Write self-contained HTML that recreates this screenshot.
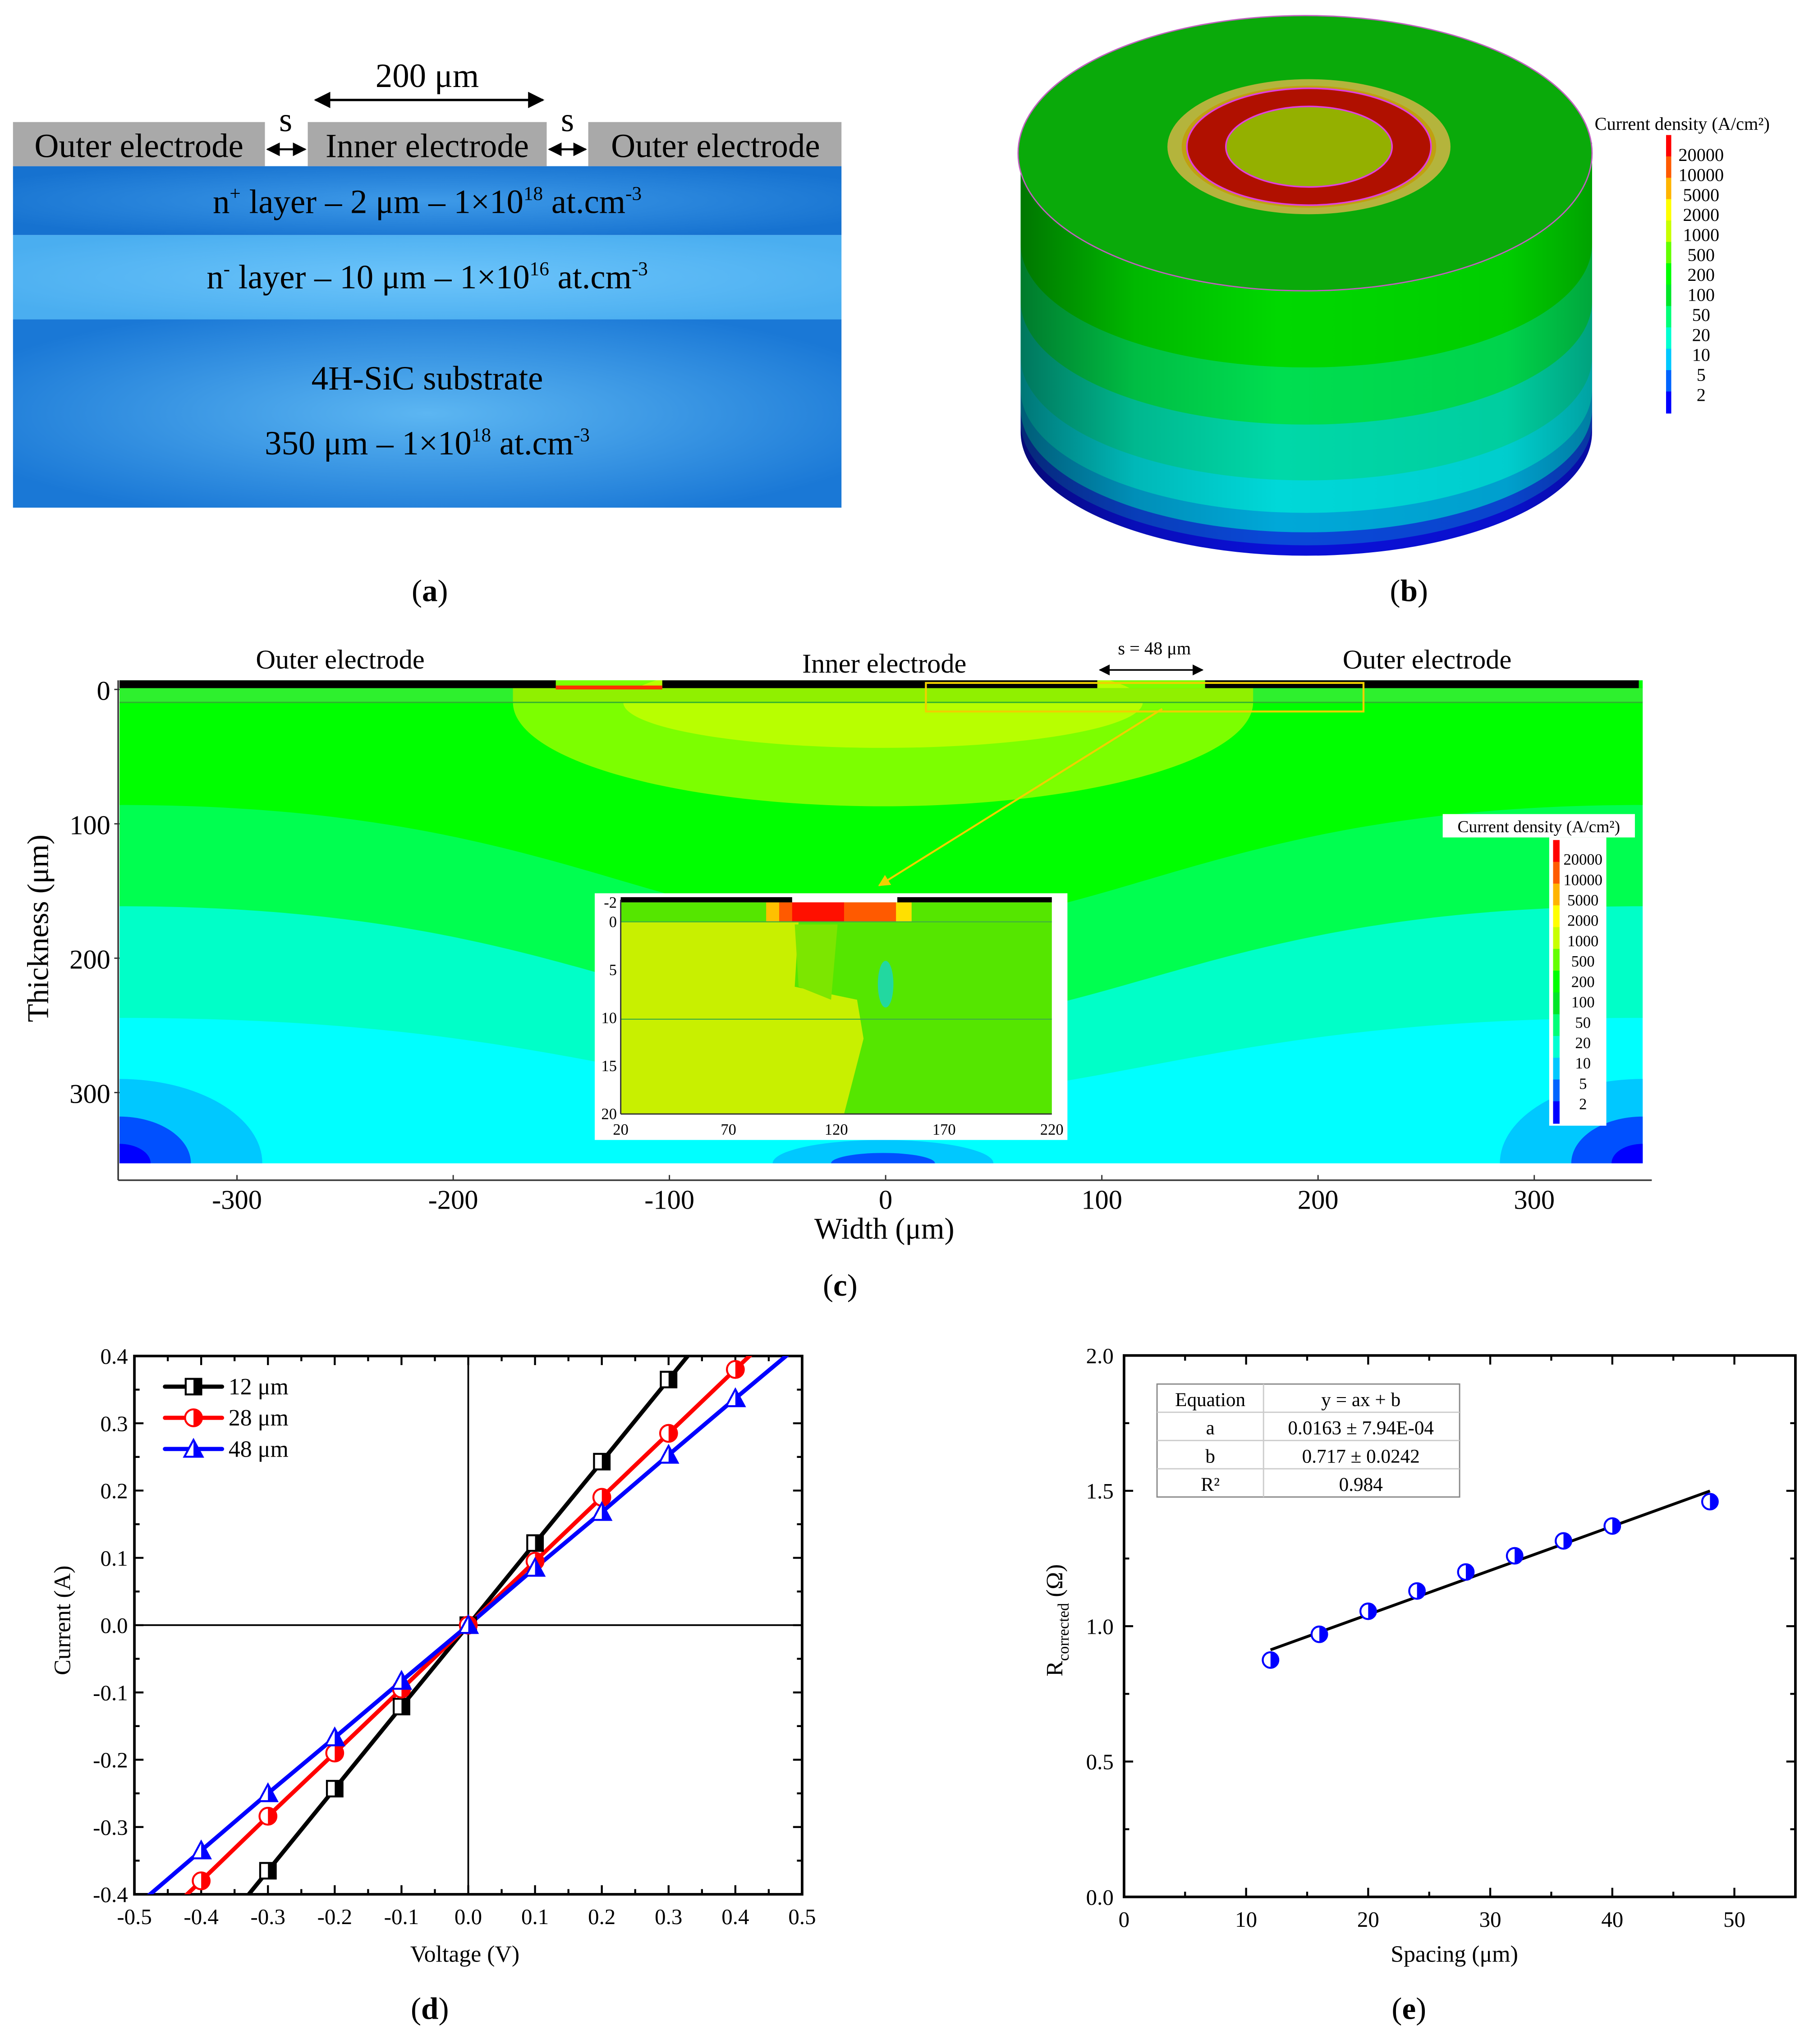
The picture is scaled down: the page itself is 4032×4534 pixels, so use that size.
<!DOCTYPE html>
<html><head><meta charset="utf-8">
<style>html,body{margin:0;padding:0;background:#fff}svg{display:block}text{font-family:"Liberation Serif",serif}</style>
</head><body>
<svg id="root" xmlns="http://www.w3.org/2000/svg" width="4032" height="4534" viewBox="0 0 1400 1574.3" preserveAspectRatio="none">
<defs>
<radialGradient id="gSub" cx="50%" cy="50%" r="60%"><stop offset="0" stop-color="#5cb6f2"/><stop offset="1" stop-color="#1a78d6"/></radialGradient>
<radialGradient id="gNp" cx="50%" cy="50%" r="60%"><stop offset="0" stop-color="#3e9ae8"/><stop offset="1" stop-color="#1672d0"/></radialGradient>
<radialGradient id="gNm" cx="50%" cy="50%" r="60%"><stop offset="0" stop-color="#6cc4fa"/><stop offset="1" stop-color="#4aaef0"/></radialGradient>
<linearGradient id="gShade" x1="0" x2="1" y1="0" y2="0"><stop offset="0" stop-color="#000" stop-opacity="0.45"/><stop offset="0.2" stop-color="#000" stop-opacity="0.15"/><stop offset="0.45" stop-color="#000" stop-opacity="0"/><stop offset="0.85" stop-color="#000" stop-opacity="0.05"/><stop offset="1" stop-color="#000" stop-opacity="0.25"/></linearGradient>
<clipPath id="clipC"><rect x="92" y="524" width="1173" height="372"/></clipPath>
<clipPath id="clipD"><rect x="103.5" y="1044.4" width="514.2" height="414.6"/></clipPath>
<marker id="arr" viewBox="0 0 10 10" refX="9" refY="5" markerWidth="7" markerHeight="7" orient="auto-start-reverse"><path d="M0,0 L10,5 L0,10 z" fill="#000"/></marker>
<marker id="arrY" viewBox="0 0 10 10" refX="9" refY="5" markerWidth="6" markerHeight="6" orient="auto"><path d="M0,0 L10,5 L0,10 z" fill="#f0d000"/></marker>
</defs>

<g>
<rect x="10" y="246" width="638" height="145" fill="url(#gSub)"/>
<rect x="10" y="181" width="638" height="65" fill="url(#gNm)"/>
<rect x="10" y="128" width="638" height="53" fill="url(#gNp)"/>
<rect x="10" y="94" width="194" height="34" fill="#a9a9a9"/>
<rect x="237" y="94" width="184" height="34" fill="#a9a9a9"/>
<rect x="453" y="94" width="195" height="34" fill="#a9a9a9"/>
<g font-size="26" text-anchor="middle">
<text x="107" y="121">Outer electrode</text>
<text x="329" y="121">Inner electrode</text>
<text x="551" y="121">Outer electrode</text>
<text x="329" y="67">200 μm</text>
<text x="220" y="101">s</text>
<text x="437" y="101">s</text>
<text x="329" y="164">n<tspan font-size="15" dy="-10">+</tspan><tspan dy="10"> layer – 2 μm – 1×10</tspan><tspan font-size="15" dy="-10">18</tspan><tspan dy="10"> at.cm</tspan><tspan font-size="15" dy="-10">-3</tspan></text>
<text x="329" y="222">n<tspan font-size="15" dy="-10">-</tspan><tspan dy="10"> layer – 10 μm – 1×10</tspan><tspan font-size="15" dy="-10">16</tspan><tspan dy="10"> at.cm</tspan><tspan font-size="15" dy="-10">-3</tspan></text>
<text x="329" y="300">4H-SiC substrate</text>
<text x="329" y="350">350 μm – 1×10<tspan font-size="15" dy="-10">18</tspan><tspan dy="10"> at.cm</tspan><tspan font-size="15" dy="-10">-3</tspan></text>
<text x="331" y="463" font-size="24">(<tspan font-weight="bold">a</tspan>)</text>
</g>
<line x1="243" y1="77" x2="418" y2="77" stroke="#000" stroke-width="1.8" marker-start="url(#arr)" marker-end="url(#arr)"/>
<line x1="206" y1="115" x2="235" y2="115" stroke="#000" stroke-width="1.5" marker-start="url(#arr)" marker-end="url(#arr)"/>
<line x1="423" y1="115" x2="451" y2="115" stroke="#000" stroke-width="1.5" marker-start="url(#arr)" marker-end="url(#arr)"/>
</g>

<g id="panelB"></g>
<g id="panelC"></g>
<g id="panelD"></g>
<g id="panelE"></g>
</svg>
<script>
const NS='http://www.w3.org/2000/svg';
function mk(parent,tag,attrs,txt){const e=document.createElementNS(NS,tag);for(const k in attrs)e.setAttribute(k,attrs[k]);if(txt!==undefined)e.textContent=txt;parent.appendChild(e);return e;}

const bLegendLabels=['20000','10000','5000','2000','1000','500','200','100','50','20','10','5','2'];
const legendColors=['#ff0000','#ff5a00','#ffb400','#ffff00','#c8ff00','#64ff00','#00ff00','#00e628','#00ff78','#00ffd2','#00c8ff','#0064ff','#0000ff'];
(function(){
const g=document.getElementById('panelB');
const cx=1005,L=786,R=1226,rx=220,ry=106;
const bands=[[428,'#0a10d8'],[420,'#0a48d8'],[410,'#00a8d8'],[395,'#00d8d8'],[370,'#00d8a8'],[327,'#00de50'],[283,'#00d800']];
bands.forEach(b=>{
 const cy=b[0]-95;
 const p=mk(g,'path',{d:`M${L},110 L${L},${cy} A${rx},95 0 0 0 ${R},${cy} L${R},110 Z`,fill:b[1]});
 
 
});
const sh=mk(g,'path',{d:`M${L},110 L${L},333 A${rx},95 0 0 0 ${R},333 L${R},110 Z`,fill:'url(#gShade)'});


const top=mk(g,'ellipse',{cx:cx,cy:118,rx:rx+1,ry:ry,fill:'#0aaa0a',stroke:'#c060c0','stroke-width':1});


[[109,52,'#b4b43c','none'],[98,47,'#c0a010','none'],[94,45,'#b01000','#e040e0'],[64,31,'#94b000','#e040e0']].forEach(r=>{
 const e=mk(g,'ellipse',{cx:1008,cy:113,rx:r[0],ry:r[1],fill:r[2],stroke:r[3],'stroke-width':1.2});
 
 
});
const t=mk(g,'text',{x:1228,y:100,'font-size':14},'Current density (A/cm²)');


const step=214/legendColors.length;
legendColors.forEach((c,i)=>{
 const r=mk(g,'rect',{x:1283,y:104+i*step,width:4,height:step+0.5,fill:c});
 
 
});
bLegendLabels.forEach((l,i)=>{
 const tx=mk(g,'text',{x:1310,y:124+i*15.4,'font-size':14,'text-anchor':'middle'},l);
 
 
});
const cap=mk(g,'text',{x:1085,y:463,'font-size':24,'text-anchor':'middle'},'');
cap.innerHTML='(<tspan font-weight="bold">b</tspan>)';


})();

const cXTicks=[-300,-200,-100,0,100,200,300];
const cYTicks=[0,100,200,300];
const cInsetXTicks=[20,70,120,170,220];
const cInsetYTicks=[-2,0,5,10,15,20];
(function(){
const g=document.getElementById('panelC');
const X=v=>682+v*1.665, Y=v=>531+v*1.035;
const cg=mk(g,'g',{'clip-path':'url(#clipC)'});
mk(cg,'rect',{x:92,y:524,width:1173,height:372,fill:'#00ffff'});
const bandsC=[[784,845,'#00ffc8'],[698,790,'#00ff50'],[620,715,'#00ff00']];
bandsC.forEach(b=>{
 const p=mk(cg,'path',{d:`M92,524 L92,${b[0]} C420,${b[0]} 500,${b[1]} 680,${b[1]} C860,${b[1]} 940,${b[0]} 1265,${b[0]} L1265,524 Z`,fill:b[2]});
 
 
});
[[92,896,110,65,'#00c8ff'],[92,896,55,36,'#0050ff'],[92,896,24,15,'#0000ff'],[1265,896,110,65,'#00c8ff'],[1265,896,55,36,'#0050ff'],[1265,896,24,15,'#0000ff'],[680,896,85,18,'#00c8ff'],[680,896,40,8,'#0050ff']].forEach(e=>{
 const el=mk(cg,'ellipse',{cx:e[0],cy:e[1],rx:e[2],ry:e[3],fill:e[4]});
 
 
});
mk(cg,'ellipse',{cx:680,cy:541,rx:285,ry:80,fill:'#7cff00'});
mk(cg,'ellipse',{cx:680,cy:541,rx:200,ry:35,fill:'#b8ff00'});
mk(cg,'rect',{x:92,y:530,width:1173,height:11,fill:'#2ef02e'});
mk(cg,'rect',{x:395,y:530,width:570,height:11,fill:'#90f000'});
mk(cg,'line',{x1:92,y1:541,x2:1265,y2:541,stroke:'#30b030','stroke-width':1});
[[92,428],[510,845],[928,1262]].forEach(s=>{
 const r=mk(g,'rect',{x:s[0],y:524,width:s[1]-s[0],height:6,fill:'#000'});
 
 
});
mk(g,'rect',{x:428,y:528,width:82,height:3,fill:'#ff3000'});
mk(g,'line',{x1:91,y1:524,x2:91,y2:909,stroke:'#333','stroke-width':1.2});
mk(g,'line',{x1:91,y1:909,x2:1272,y2:909,stroke:'#333','stroke-width':1.2});
cXTicks.forEach(v=>{
 mk(g,'line',{x1:X(v),y1:909,x2:X(v),y2:905,stroke:'#333'});
 const t=mk(g,'text',{x:X(v),y:931,'font-size':21,'text-anchor':'middle'},String(v));
 
 
});
cYTicks.forEach(v=>{
 mk(g,'line',{x1:88,y1:Y(v),x2:92,y2:Y(v),stroke:'#333'});
 const t=mk(g,'text',{x:85,y:Y(v)+8,'font-size':21,'text-anchor':'end'},String(v));
 
 
});
const yt=mk(g,'text',{x:0,y:0,'font-size':23,'text-anchor':'middle',transform:'translate(37,715) rotate(-90)'},'Thickness (μm)');

const xt=mk(g,'text',{x:681,y:954,'font-size':23,'text-anchor':'middle'},'Width (μm)');

[['Outer electrode',262,515],['Inner electrode',681,518],['Outer electrode',1099,515]].forEach(l=>{
 const t=mk(g,'text',{x:l[1],y:l[2],'font-size':21,'text-anchor':'middle'},l[0]);
 
});
mk(g,'text',{x:889,y:504,'font-size':14,'text-anchor':'middle'},'s = 48 μm');
mk(g,'line',{x1:847,y1:516,x2:926,y2:516,stroke:'#000','stroke-width':1.2,'marker-start':'url(#arr)','marker-end':'url(#arr)'});
mk(g,'rect',{x:713,y:526,width:337,height:22,fill:'none',stroke:'#f0d000','stroke-width':1.5});
mk(g,'line',{x1:895,y1:546,x2:677,y2:682,stroke:'#f0d000','stroke-width':1.5,'marker-end':'url(#arrY)'});
const ins=mk(g,'g',{});

mk(ins,'rect',{x:458,y:688,width:364,height:190,fill:'#fff'});
const IX=v=>478+(v-20)*1.66, IY=v=>710+(v)*7.4;
mk(ins,'rect',{x:478,y:695,width:332,height:163,fill:'#55e600'});
mk(ins,'path',{d:`M478,710 L615,710 L612,760 L660,770 L665,800 L650,858 L478,858 Z`,fill:'#c8f000'});
mk(ins,'path',{d:`M612,712 L645,712 L640,770 L615,760 Z`,fill:'#7ce600'});
mk(ins,'ellipse',{cx:682,cy:758,rx:6,ry:18,fill:'#22d8a0'});
mk(ins,'rect',{x:598,y:695,width:100,height:15,fill:'#ff5a00'});
mk(ins,'rect',{x:610,y:695,width:40,height:15,fill:'#ff1000'});
mk(ins,'rect',{x:590,y:695,width:10,height:15,fill:'#ffc000'});
mk(ins,'rect',{x:690,y:695,width:12,height:15,fill:'#ffe000'});
mk(ins,'rect',{x:478,y:691,width:132,height:4,fill:'#000'});
mk(ins,'rect',{x:691,y:691,width:119,height:4,fill:'#000'});
mk(ins,'line',{x1:478,y1:710,x2:810,y2:710,stroke:'#40b040','stroke-width':0.8});
mk(ins,'line',{x1:478,y1:785,x2:810,y2:785,stroke:'#40b040','stroke-width':0.8});
mk(ins,'line',{x1:478,y1:693,x2:478,y2:858,stroke:'#333'});
mk(ins,'line',{x1:478,y1:858,x2:810,y2:858,stroke:'#333'});
cInsetYTicks.forEach(v=>{
 const t=mk(ins,'text',{x:475,y:IY(v)+4,'font-size':12,'text-anchor':'end'},String(v));
 
});
cInsetXTicks.forEach(v=>{
 const t=mk(ins,'text',{x:IX(v),y:874,'font-size':12,'text-anchor':'middle'},String(v));
 
});
const lg=mk(g,'g',{});

mk(lg,'rect',{x:1111,y:627,width:148,height:18,fill:'#fff'});
mk(lg,'text',{x:1185,y:641,'font-size':13,'text-anchor':'middle'},'Current density (A/cm²)');
mk(lg,'rect',{x:1193,y:645,width:44,height:222,fill:'#fff'});
const st=218/legendColors.length;
legendColors.forEach((c,i)=>{mk(lg,'rect',{x:1196,y:647+i*st,width:5,height:st+0.5,fill:c});});
bLegendLabels.forEach((l,i)=>{
 const t=mk(lg,'text',{x:1219,y:666+i*15.7,'font-size':12,'text-anchor':'middle'},l);
 
});
const cap=mk(g,'text',{x:647,y:998,'font-size':24,'text-anchor':'middle'},'');
cap.innerHTML='(<tspan font-weight="bold">c</tspan>)';
})();

const dXTickLabels=['-0.5','-0.4','-0.3','-0.2','-0.1','0.0','0.1','0.2','0.3','0.4','0.5'];
const dYTickLabels=['-0.4','-0.3','-0.2','-0.1','0.0','0.1','0.2','0.3','0.4'];
const dV=[-0.5,-0.4,-0.3,-0.2,-0.1,0,0.1,0.2,0.3,0.4,0.5];
const dI12=[-0.61,-0.487,-0.365,-0.243,-0.121,0,0.122,0.243,0.365,0.487,0.61];
const dI28=[-0.475,-0.38,-0.284,-0.19,-0.095,0,0.095,0.19,0.285,0.38,0.475];
const dI48=[-0.42,-0.335,-0.25,-0.167,-0.083,0,0.085,0.168,0.253,0.337,0.42];
(function(){
const g=document.getElementById('panelD');
const x0=103.5,x1=617.7,y0=1044.4,y1=1459;
const X=v=>x0+(v+0.5)*(x1-x0), Y=v=>y1-(v+0.4)/0.8*(y1-y0);
mk(g,'line',{x1:X(0),y1:y0,x2:X(0),y2:y1,stroke:'#000','stroke-width':1.3});
mk(g,'line',{x1:x0,y1:Y(0),x2:x1,y2:Y(0),stroke:'#000','stroke-width':1.3});
mk(g,'rect',{x:x0,y:y0,width:x1-x0,height:y1-y0,fill:'none',stroke:'#000','stroke-width':2});
for(let i=0;i<=20;i++){const v=-0.5+i*0.05,len=i%2?4:7;
 mk(g,'line',{x1:X(v),y1:y1,x2:X(v),y2:y1-len,stroke:'#000','stroke-width':1.5});
 mk(g,'line',{x1:X(v),y1:y0,x2:X(v),y2:y0+len,stroke:'#000','stroke-width':1.5});}
for(let i=0;i<=16;i++){const v=-0.4+i*0.05,len=i%2?4:7;
 mk(g,'line',{x1:x0,y1:Y(v),x2:x0+len,y2:Y(v),stroke:'#000','stroke-width':1.5});
 mk(g,'line',{x1:x1,y1:Y(v),x2:x1-len,y2:Y(v),stroke:'#000','stroke-width':1.5});}
dXTickLabels.forEach((l,i)=>{const t=mk(g,'text',{x:X(dV[i]),y:y1+23,'font-size':17,'text-anchor':'middle'},l);
 });
dYTickLabels.forEach((l,i)=>{const t=mk(g,'text',{x:x0-5,y:Y(-0.4+i*0.1)+6,'font-size':17,'text-anchor':'end'},l);
 });
const series=[[dI12,'#000','sq','12 μm'],[dI28,'#ff0000','ci','28 μm'],[dI48,'#0000ff','tr','48 μm']];
const cg=mk(g,'g',{'clip-path':'url(#clipD)'});
function marker(par,type,x,y,c){
 const s=6;
 if(type==='sq'){mk(par,'rect',{x:x-s,y:y-s,width:2*s,height:2*s,fill:'#fff',stroke:c,'stroke-width':1.5});mk(par,'rect',{x:x,y:y-s,width:s,height:2*s,fill:c});}
 else if(type==='ci'){mk(par,'circle',{cx:x,cy:y,r:s+0.5,fill:'#fff',stroke:c,'stroke-width':1.5});mk(par,'path',{d:`M${x},${y-s-0.5} A${s+0.5},${s+0.5} 0 0 1 ${x},${y+s+0.5} Z`,fill:c});}
 else {mk(par,'path',{d:`M${x},${y-s-1} L${x+s+1},${y+s} L${x-s-1},${y+s} Z`,fill:'#fff',stroke:c,'stroke-width':1.5});mk(par,'path',{d:`M${x},${y-s-1} L${x+s+1},${y+s} L${x},${y+s} Z`,fill:c});}
}
series.forEach(s=>{
 const pts=dV.map((v,i)=>X(v)+','+Y(s[0][i])).join(' ');
 const pl=mk(cg,'polyline',{points:pts,fill:'none',stroke:s[1],'stroke-width':3.2});
 
});
series.forEach(s=>{
 dV.forEach((v,i)=>{ if(Math.abs(s[0][i])<=0.4 && Math.abs(v)<0.5){ const m=mk(cg,'g',{});   marker(m,s[2],X(v),Y(s[0][i]),s[1]); }});
});
series.forEach((s,k)=>{
 const y=1068+k*24;
 const le=mk(g,'g',{});
 
 mk(le,'line',{x1:127,y1:y,x2:171,y2:y,stroke:s[1],'stroke-width':3.2,'stroke-linecap':'round'});
 marker(le,s[2],149,y,s[1]);
 mk(le,'text',{x:176,y:y+6,'font-size':18},s[3]);
});
const yt=mk(g,'text',{x:0,y:0,'font-size':18,'text-anchor':'middle',transform:'translate(54,1248) rotate(-90)'},'Current (A)');

const xt=mk(g,'text',{x:358,y:1511,'font-size':18,'text-anchor':'middle'},'Voltage (V)');

const cap=mk(g,'text',{x:331,y:1555,'font-size':24,'text-anchor':'middle'},'');
cap.innerHTML='(<tspan font-weight="bold">d</tspan>)';
})();

const eXTickLabels=['0','10','20','30','40','50'];
const eYTickLabels=['0.0','0.5','1.0','1.5','2.0'];
const eSpacing=[12,16,20,24,28,32,36,40,48];
const eR=[0.875,0.97,1.055,1.13,1.2,1.26,1.315,1.37,1.46];
const eFitA=0.0163, eFitB=0.717;
const eTable=[['Equation','y = ax + b'],['a','0.0163 ± 7.94E-04'],['b','0.717 ± 0.0242'],['R²','0.984']];
(function(){
const g=document.getElementById('panelE');
const x0=865.6,x1=1382.6,y0=1044,y1=1461;
const X=v=>x0+v/55*(x1-x0), Y=v=>y1-v/2*(y1-y0);
mk(g,'rect',{x:x0,y:y0,width:x1-x0,height:y1-y0,fill:'none',stroke:'#000','stroke-width':2});
for(let v=0;v<=55;v+=5){const len=v%10?4:7;
 mk(g,'line',{x1:X(v),y1:y1,x2:X(v),y2:y1-len,stroke:'#000','stroke-width':1.5});
 mk(g,'line',{x1:X(v),y1:y0,x2:X(v),y2:y0+len,stroke:'#000','stroke-width':1.5});}
for(let i=0;i<=8;i++){const v=i*0.25,len=i%2?4:7;
 mk(g,'line',{x1:x0,y1:Y(v),x2:x0+len,y2:Y(v),stroke:'#000','stroke-width':1.5});
 mk(g,'line',{x1:x1,y1:Y(v),x2:x1-len,y2:Y(v),stroke:'#000','stroke-width':1.5});}
eXTickLabels.forEach((l,i)=>{const t=mk(g,'text',{x:X(i*10),y:y1+23,'font-size':17,'text-anchor':'middle'},l);
 });
eYTickLabels.forEach((l,i)=>{const t=mk(g,'text',{x:x0-8,y:Y(i*0.5)+6,'font-size':17,'text-anchor':'end'},l);
 });
const fx0=eSpacing[0],fx1=eSpacing[eSpacing.length-1];
const fl=mk(g,'line',{x1:X(fx0),y1:Y(eFitA*fx0+eFitB),x2:X(fx1),y2:Y(eFitA*fx1+eFitB),stroke:'#000','stroke-width':2.2});

eSpacing.forEach((s,i)=>{
 const x=X(s),y=Y(eR[i]),r=6;
 const m=mk(g,'g',{});
 
 mk(m,'circle',{cx:x,cy:y,r:r,fill:'#fff',stroke:'#0000ff','stroke-width':1.5});
 mk(m,'path',{d:`M${x},${y-r} A${r},${r} 0 0 1 ${x},${y+r} Z`,fill:'#0000ff'});
});
const tb=mk(g,'g',{});

mk(tb,'rect',{x:891,y:1066,width:233,height:87,fill:'#fff',stroke:'#888','stroke-width':1});
mk(tb,'line',{x1:973,y1:1066,x2:973,y2:1153,stroke:'#ccc'});
for(let i=1;i<4;i++)mk(tb,'line',{x1:891,y1:1066+i*21.75,x2:1124,y2:1066+i*21.75,stroke:'#ccc'});
eTable.forEach((r,i)=>{
 mk(tb,'text',{x:932,y:1083+i*21.75,'font-size':15,'text-anchor':'middle'},r[0]);
 mk(tb,'text',{x:1048,y:1083+i*21.75,'font-size':15,'text-anchor':'middle'},r[1]);
});
const yt=mk(g,'text',{x:0,y:0,'font-size':18,'text-anchor':'middle',transform:'translate(818,1248) rotate(-90)'},'');
yt.innerHTML='R<tspan font-size="12" dy="5">corrected</tspan><tspan dy="-5"> (Ω)</tspan>';

const xt=mk(g,'text',{x:1120,y:1511,'font-size':18,'text-anchor':'middle'},'Spacing (μm)');

const cap=mk(g,'text',{x:1085,y:1555,'font-size':24,'text-anchor':'middle'},'');
cap.innerHTML='(<tspan font-weight="bold">e</tspan>)';
})();
</script>
</body></html>
